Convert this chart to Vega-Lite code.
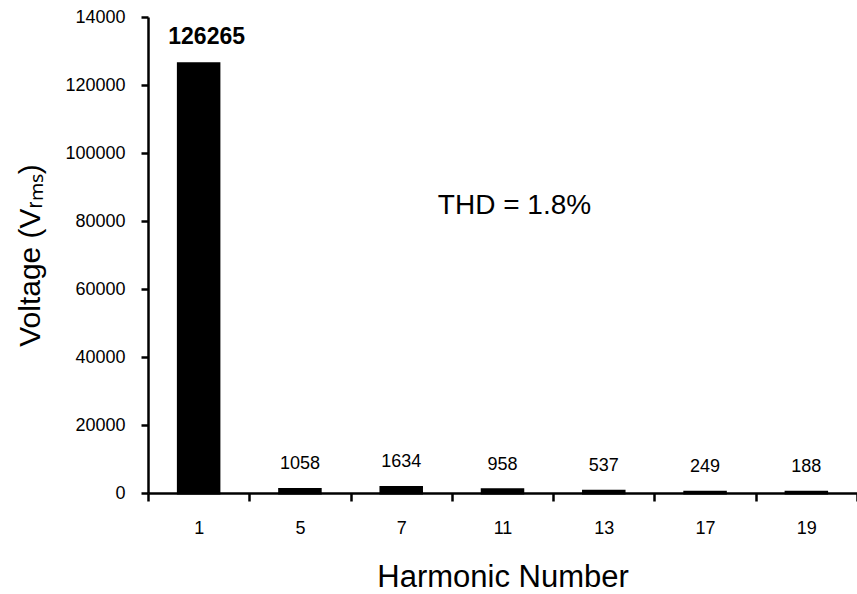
{
  "$schema": "https://vega.github.io/schema/vega-lite/v6.json",
  "autosize": {"type": "none"},
  "padding": {"left": 148, "top": 17, "right": 0, "bottom": 101},
  "width": 709,
  "height": 476,
  "background": "white",
  "config": {
    "view": {"stroke": null},
    "font": "Liberation Sans",
    "axis": {"grid": false, "domainColor": "black", "tickColor": "black", "labelColor": "black", "titleColor": "black", "labelFont": "Liberation Sans", "titleFont": "Liberation Sans", "titleFontWeight": "normal"},
    "axisY": {"labelPadding": 16, "titlePadding": 19, "tickSize": 7, "labelFontSize": 18, "titleFontSize": 30},
    "axisX": {"labelPadding": 18, "titlePadding": 25, "tickSize": 8, "labelFontSize": 18, "titleFontSize": 31}
  },
  "datasets": {
    "harmonics": [
      {"harmonic": "1", "voltage": 126265},
      {"harmonic": "5", "voltage": 1058},
      {"harmonic": "7", "voltage": 1634},
      {"harmonic": "11", "voltage": 958},
      {"harmonic": "13", "voltage": 537},
      {"harmonic": "17", "voltage": 249},
      {"harmonic": "19", "voltage": 188}
    ],
    "note": [
      {"harmonic": "11", "voltage": 84500, "label": "THD = 1.8%"}
    ]
  },
  "encoding": {
    "x": {
      "field": "harmonic", "type": "ordinal", "sort": null,
      "scale": {"domain": ["1", "5", "7", "11", "13", "17", "19"], "paddingInner": 0, "paddingOuter": 0},
      "axis": {
        "title": "Harmonic Number",
        "labelAngle": 0,
        "tickBand": "extent", "tickWidth": 2.5, "domainWidth": 2.5
      }
    },
    "y": {
      "field": "voltage", "type": "quantitative",
      "scale": {"domain": [0, 140000], "nice": false},
      "axis": {
        "title": "Voltage (Vᵣₘₛ)",
        "values": [0, 20000, 40000, 60000, 80000, 100000, 120000, 140000],
        "format": "d",
        "labelExpr": "datum.value == 140000 ? '14000' : datum.label",
        "tickWidth": 2.5, "domainWidth": 2.5
      }
    }
  },
  "layer": [
    {
      "data": {"name": "harmonics"},
      "mark": {"type": "bar", "color": "black", "stroke": "black", "strokeWidth": 3, "width": {"band": 0.4}}
    },
    {
      "data": {"name": "harmonics"},
      "transform": [{"filter": "datum.harmonic == '1'"}],
      "mark": {"type": "text", "fontSize": 23, "fontWeight": "bold", "baseline": "alphabetic", "dy": -20, "dx": 8, "color": "black"},
      "encoding": {"text": {"field": "voltage", "type": "quantitative", "format": "d"}}
    },
    {
      "data": {"name": "harmonics"},
      "transform": [{"filter": "datum.harmonic != '1'"}],
      "mark": {"type": "text", "fontSize": 18, "baseline": "alphabetic", "dy": -20, "color": "black"},
      "encoding": {"text": {"field": "voltage", "type": "quantitative", "format": "d"}}
    },
    {
      "data": {"name": "note"},
      "mark": {"type": "text", "fontSize": 28, "baseline": "middle", "dx": 12, "color": "black"},
      "encoding": {"text": {"field": "label", "type": "nominal"}}
    }
  ]
}
